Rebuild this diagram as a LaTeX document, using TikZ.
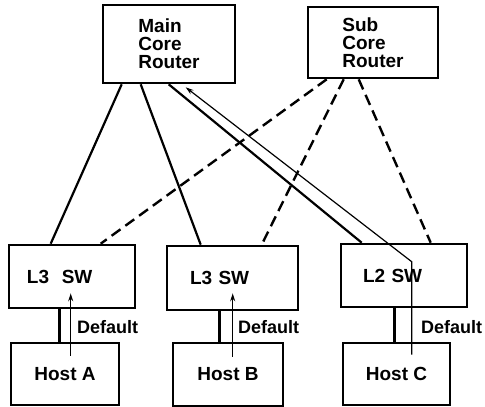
\documentclass[tikz,border=0pt]{standalone}
\usepackage{fontspec}
\setmainfont{Liberation Sans}
\usetikzlibrary{calc,arrows.meta}

\tikzset{
  box/.style={draw, line width=2.6pt, inner sep=0pt, font=\fontsize{19}{18}\selectfont\bfseries},
  routerbox/.style={box, align=left},
  swbox/.style={box, align=left, text width=#1},
  uplink/.style={line width=2.2pt},
  backup/.style={line width=2.4pt, dash pattern=on 11pt off 6pt},
  hostlink/.style={line width=2.8pt},
  route/.style={line width=1.2pt, -{Stealth[length=8pt,width=5pt]}},
  lbl/.style={font=\fontsize{18}{18}\selectfont\bfseries, inner sep=0pt, anchor=west}
}

\begin{document}
\begin{tikzpicture}[x=1pt, y=-1pt]
  \useasboundingbox (0,0) rectangle (485,407);

  % routers
  \node[routerbox, minimum width=132pt, minimum height=78pt] (main) at (169,44) {Main\\Core\\Router};
  \node[routerbox, minimum width=130pt, minimum height=71pt] (sub) at (373,42.5) {Sub\\Core\\Router};

  % switches
  \node[swbox=90pt, inner xsep=18pt, minimum height=63pt] (swA) at (72,276.5) {L3\ \ SW};
  \node[swbox=85pt, inner xsep=23pt, minimum height=64pt] (swB) at (232.5,278) {L3 SW};
  \node[swbox=82pt, inner xsep=22pt, minimum height=63pt] (swC) at (404,275.5) {L2 SW};

  % hosts
  \node[box, minimum width=108pt, minimum height=62pt] (hostA) at (65,374) {Host A};
  \node[box, minimum width=110pt, minimum height=63pt] (hostB) at (228,374.5) {Host B};
  \node[box, minimum width=107pt, minimum height=62pt] (hostC) at (396.5,374) {Host C};

  % main core router uplinks
  \draw[uplink] ($(main.south west)+(20,0)$) -- ($(swA.north west)+(43,0)$);
  \draw[uplink] ($(main.south west)+(39,0)$) -- ($(swB.north west)+(35,0)$);
  \draw[uplink] ($(main.south west)+(67,0)$) -- ($(swC.north west)+(22,0)$);

  % sub core router uplinks
  \draw[backup] ($(sub.south west)+(20,0)$) -- ($(swA.north west)+(93,0)$);
  \draw[backup] ($(sub.south west)+(37,0)$) -- ($(swB.north west)+(96,0)$);
  \draw[backup] ($(sub.south west)+(52,0)$) -- ($(swC.north west)+(91,0)$);

  % host access links
  \draw[hostlink] ($(swA.south west)+(52,0)$) -- ($(hostA.north west)+(50,0)$);
  \draw[hostlink] ($(swB.south west)+(54,0)$) -- ($(hostB.north west)+(48,0)$);
  \draw[hostlink] ($(swC.south west)+(55,0)$) -- ($(hostC.north west)+(53,0)$);

  % default routes
  \draw[route] ($(hostA.north west)+(61,14)$) -- ($(swA.south west)+(63,-16)$);
  \draw[route] ($(hostB.north west)+(61,15)$) -- ($(swB.south west)+(67,-18)$);
  \coordinate (bendC) at ($(swC.north west)+(72,19)$);
  \draw[route] ($(hostC.north west)+(70,13)$) -- (bendC) -- ($(main.south west)+(84,3)$);

  \node[lbl] (defA) at (77,327) {Default};
  \node[lbl] (defB) at (238,327) {Default};
  \node[lbl] (defC) at (421,327) {Default};
\end{tikzpicture}
\end{document}
